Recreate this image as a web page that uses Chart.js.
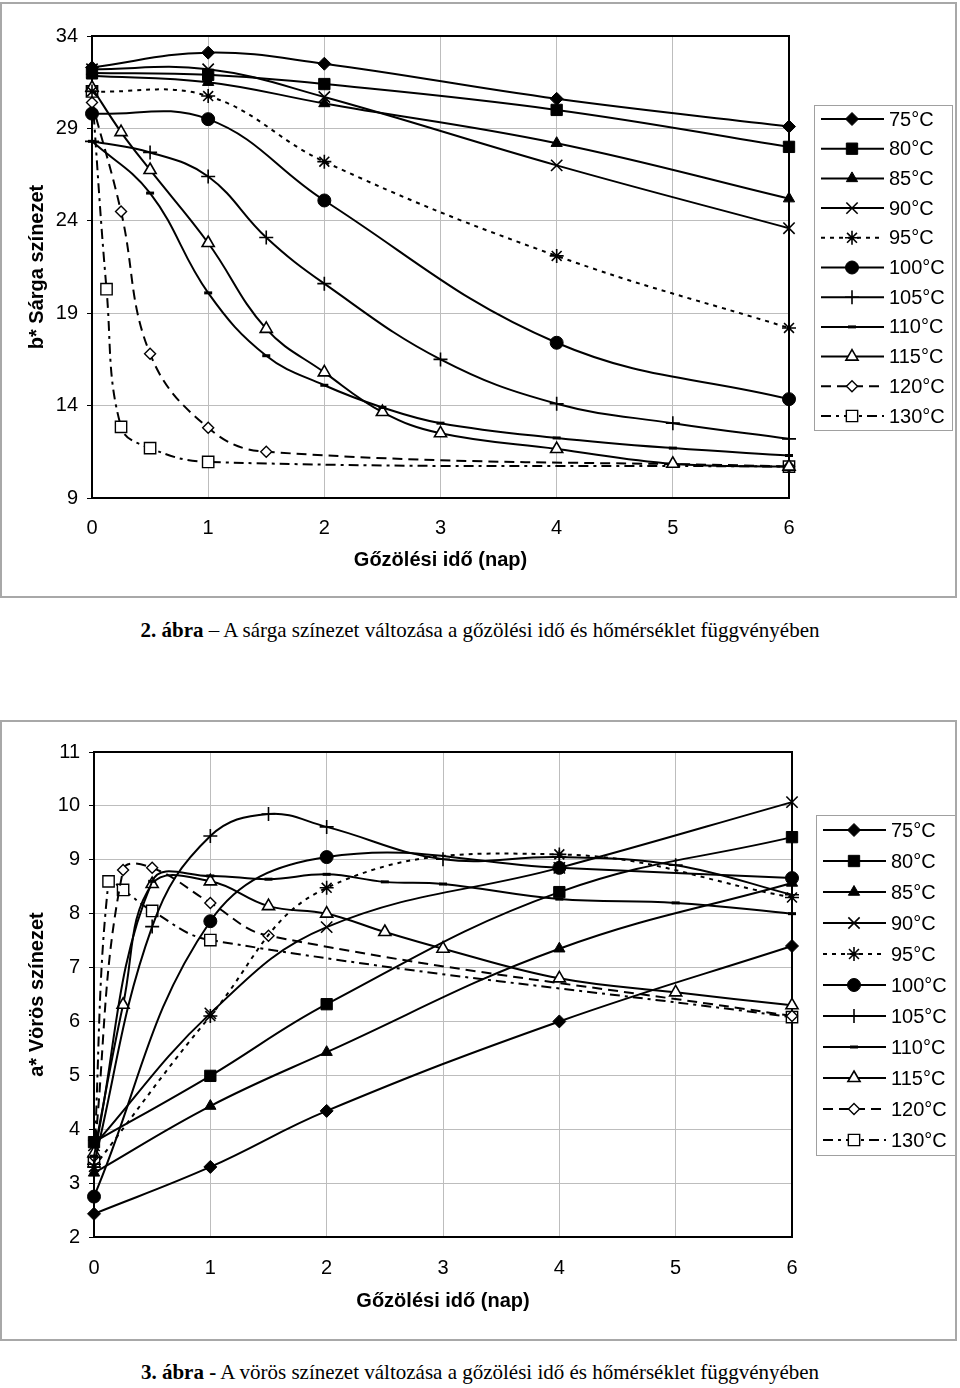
<!DOCTYPE html>
<html>
<head>
<meta charset="utf-8">
<script src="https://cdn.jsdelivr.net/npm/chart.js@4.4.0/dist/chart.umd.min.js"></script>
<style>
  body { margin: 0; background: #fff; width: 960px; height: 1388px; position: relative; overflow: hidden; }
  .frame { position: absolute; left: 0; width: 957px; border: 2px solid #a8a8a8; box-sizing: border-box; pointer-events: none; }
  canvas { position: absolute; left: 0; }
  .cap { position: absolute; left: 0; width: 960px; text-align: center; font-family: "Liberation Serif", "Times New Roman", serif; font-size: 21px; line-height: 24px; color: #000; }
</style>
</head>
<body>
<canvas id="chB" width="960" height="600" style="top:0"></canvas>
<div class="frame" style="top:2px;height:596px"></div>
<div class="cap" style="top:618px"><b>2. ábra</b> – A sárga színezet változása a gőzölési idő és hőmérséklet függvényében</div>

<canvas id="chA" width="960" height="630" style="top:720px"></canvas>
<div class="frame" style="top:720px;height:621px"></div>
<div class="cap" style="top:1360px"><b>3. ábra -</b> A vörös színezet változása a gőzölési idő és hőmérséklet függvényében</div>

<script>
// series labels
const temps = ["75°C", "80°C", "85°C", "90°C", "95°C", "100°C", "105°C", "110°C", "115°C", "120°C", "130°C"];

// b* (yellow) – 2. ábra
const bTicks = [9, 14, 19, 24, 29, 34];
const bT = [0, 1, 2, 4, 6];
const b75 = [32.3, 33.1, 32.5, 30.6, 29.1];
const b80 = [32.0, 31.9, 31.4, 30.0, 28.0];
const b85 = [31.85, 31.5, 30.35, 28.2, 25.2];
const b90 = [32.2, 32.2, 30.7, 27.0, 23.6];
const b95 = [31.0, 30.75, 27.2, 22.1, 18.2];
const b100 = [29.8, 29.5, 25.1, 17.4, 14.35];
const bT105 = [0, 0.5, 1, 1.5, 2, 3, 4, 5, 6];
const b105 = [28.3, 27.7, 26.4, 23.1, 20.6, 16.5, 14.1, 13.05, 12.2];
const bT110 = [0, 0.5, 1, 1.5, 2, 2.5, 3, 4, 5, 6];
const b110 = [28.3, 25.5, 20.1, 16.7, 15.1, 13.9, 13.05, 12.25, 11.7, 11.3];
const bT115 = [0, 0.25, 0.5, 1, 1.5, 2, 2.5, 3, 4, 5, 6];
const b115 = [31.2, 28.8, 26.75, 22.8, 18.15, 15.8, 13.65, 12.5, 11.65, 10.85, 10.7];
const bT120 = [0, 0.25, 0.5, 1, 1.5, 6];
const b120 = [30.4, 24.5, 16.8, 12.8, 11.5, 10.7];
const bT130 = [0, 0.125, 0.25, 0.5, 1, 6];
const b130 = [31.0, 20.3, 12.85, 11.7, 10.95, 10.7];

// a* (red) – 3. ábra
const aTicks = [2, 3, 4, 5, 6, 7, 8, 9, 10, 11];
const aT = [0, 1, 2, 4, 6];
const a75 = [2.43, 3.3, 4.34, 6.0, 7.4];
const a80 = [3.76, 4.99, 6.32, 8.4, 9.42];
const a85 = [3.19, 4.43, 5.43, 7.35, 8.57];
const a90 = [3.7, 6.15, 7.75, 8.85, 10.07];
const a95 = [3.3, 6.1, 8.48, 9.1, 8.3];
const a100 = [2.75, 7.86, 9.05, 8.85, 8.66];
const aT105 = [0, 0.5, 1, 1.5, 2, 3, 4, 5, 6];
const a105 = [3.35, 7.76, 9.44, 9.85, 9.61, 9.01, 9.05, 8.9, 8.35];
const aT110 = [0, 0.5, 1, 1.5, 2, 2.5, 3, 4, 5, 6];
const a110 = [3.5, 8.6, 8.7, 8.64, 8.73, 8.59, 8.55, 8.27, 8.2, 8.0];
const aT115 = [0, 0.25, 0.5, 1, 1.5, 2, 2.5, 3, 4, 5, 6];
const a115 = [3.55, 6.31, 8.55, 8.6, 8.14, 8.0, 7.66, 7.35, 6.8, 6.54, 6.3];
const aT120 = [0, 0.25, 0.5, 1, 1.5, 6];
const a120 = [3.5, 8.81, 8.85, 8.2, 7.59, 6.1];
const aT130 = [0, 0.125, 0.25, 0.5, 1, 6];
const a130 = [3.4, 8.6, 8.44, 8.05, 7.51, 6.08];

const FONT = '"Liberation Sans", Arial, sans-serif';

// marker / line look per temperature
const looks = [
  { pointStyle: "rectRot", pointRadius: 6.5, pointBackgroundColor: "#000" },
  { pointStyle: "rect", pointRadius: 8, pointBackgroundColor: "#000" },
  { pointStyle: "triangle", pointRadius: 6.5, pointBackgroundColor: "#000" },
  { pointStyle: "crossRot", pointRadius: 8, pointBorderWidth: 1.6 },
  { pointStyle: "star", pointRadius: 7, pointBorderWidth: 1.6, borderDash: [4, 5] },
  { pointStyle: "circle", pointRadius: 6.5, pointBackgroundColor: "#000" },
  { pointStyle: "cross", pointRadius: 7, pointBorderWidth: 1.6 },
  { pointStyle: "line", pointRadius: 4, pointBorderWidth: 3 },
  { pointStyle: "triangle", pointRadius: 7, pointBackgroundColor: "#fff", pointBorderWidth: 1.6 },
  { pointStyle: "rectRot", pointRadius: 5.5, pointBackgroundColor: "#fff", pointBorderWidth: 1.4, borderDash: [10, 6] },
  { pointStyle: "rect", pointRadius: 8, pointBackgroundColor: "#fff", pointBorderWidth: 1.4, borderDash: [10, 5, 3, 5] }
];

function series(i, xs, ys) {
  return Object.assign({
    label: temps[i],
    data: xs.map((x, k) => ({ x, y: ys[k] })),
    borderColor: "#000",
    borderWidth: 2,
    borderDash: [],
    pointBorderColor: "#000",
    pointBorderWidth: 1,
    pointBackgroundColor: "#000",
    tension: 0.4,
    fill: false,
    clip: false
  }, looks[i]);
}

// black frame round the plot area
const plotFrame = {
  id: "plotFrame",
  beforeDatasetsDraw(chart) {
    const { ctx, chartArea: a } = chart;
    ctx.save();
    ctx.strokeStyle = "#000";
    ctx.lineWidth = 2;
    ctx.strokeRect(a.left, a.top, a.right - a.left, a.bottom - a.top);
    ctx.restore();
  }
};

// legend with line sample + marker, like the original
const lineLegend = {
  id: "lineLegend",
  afterDraw(chart, args, o) {
    const ctx = chart.ctx;
    ctx.save();
    ctx.strokeStyle = "#a0a0a0";
    ctx.lineWidth = 1;
    ctx.strokeRect(o.x + 0.5, o.y + 0.5, o.w, o.h);
    chart.data.datasets.forEach((ds, i) => {
      const y = o.y0 + i * o.step;
      ctx.beginPath();
      ctx.setLineDash(ds.borderDash || []);
      ctx.lineWidth = 2;
      ctx.strokeStyle = "#000";
      ctx.moveTo(o.x + 7, y);
      ctx.lineTo(o.x + 70, y);
      ctx.stroke();
      ctx.setLineDash([]);
      ctx.fillStyle = ds.pointBackgroundColor;
      ctx.strokeStyle = "#000";
      ctx.lineWidth = ds.pointBorderWidth;
      Chart.helpers.drawPoint(ctx, {
        pointStyle: ds.pointStyle, radius: ds.pointRadius, rotation: 0, borderWidth: ds.pointBorderWidth
      }, o.x + 38, y);
      ctx.fillStyle = "#000";
      ctx.font = "20px " + FONT;
      ctx.textBaseline = "middle";
      ctx.fillText(ds.label, o.x + 75, y + 1);
    });
    ctx.restore();
  }
};

function makeChart(id, datasets, ticks, yTitle, g) {
  return new Chart(document.getElementById(id), {
    type: "line",
    data: { datasets },
    options: {
      responsive: false,
      animation: false,
      devicePixelRatio: 1,
      layout: { padding: { left: 0, right: g.right, top: g.top, bottom: 0 } },
      plugins: {
        legend: { display: false },
        tooltip: { enabled: false },
        lineLegend: g.legend
      },
      scales: {
        x: {
          type: "linear", min: 0, max: 6,
          afterFit: (s) => { s.height = g.xh; },
          ticks: { stepSize: 1, color: "#000", font: { family: FONT, size: 20 }, padding: g.xpad },
          grid: { color: "#bdbdbd", lineWidth: 1, drawTicks: false },
          border: { display: false },
          title: { display: true, text: "Gőzölési idő (nap)", color: "#000", font: { family: FONT, size: 20, weight: "bold" }, padding: { top: 0, bottom: g.xtb } }
        },
        y: {
          type: "linear", min: ticks[0], max: ticks[ticks.length - 1],
          afterFit: (s) => { s.width = g.yw; },
          afterBuildTicks: (s) => { s.ticks = ticks.map((v) => ({ value: v })); },
          ticks: { color: "#000", font: { family: FONT, size: 20 }, padding: 9 },
          grid: { color: "#bdbdbd", lineWidth: 1, tickLength: 5, tickColor: "#000" },
          border: { display: false },
          title: { display: true, text: yTitle, color: "#000", font: { family: FONT, size: 20, weight: "bold" }, padding: { top: 25, bottom: 0 } }
        }
      }
    },
    plugins: [plotFrame, lineLegend]
  });
}

makeChart("chB", [
  series(0, bT, b75), series(1, bT, b80), series(2, bT, b85), series(3, bT, b90),
  series(4, bT, b95), series(5, bT, b100), series(6, bT105, b105), series(7, bT110, b110),
  series(8, bT115, b115), series(9, bT120, b120), series(10, bT130, b130)
], bTicks, "b* Sárga színezet", {
  right: 171, top: 36, xh: 102, xpad: 18, xtb: 28, yw: 92,
  legend: { x: 814, y: 105, w: 138, h: 325, y0: 119, step: 29.7 }
});

makeChart("chA", [
  series(0, aT, a75), series(1, aT, a80), series(2, aT, a85), series(3, aT, a90),
  series(4, aT, a95), series(5, aT, a100), series(6, aT105, a105), series(7, aT110, a110),
  series(8, aT115, a115), series(9, aT120, a120), series(10, aT130, a130)
], aTicks, "a* Vörös színezet", {
  right: 168, top: 32, xh: 113, xpad: 19, xtb: 37, yw: 94,
  legend: { x: 816, y: 95, w: 140, h: 340, y0: 110, step: 31 }
});
</script>
</body>
</html>
